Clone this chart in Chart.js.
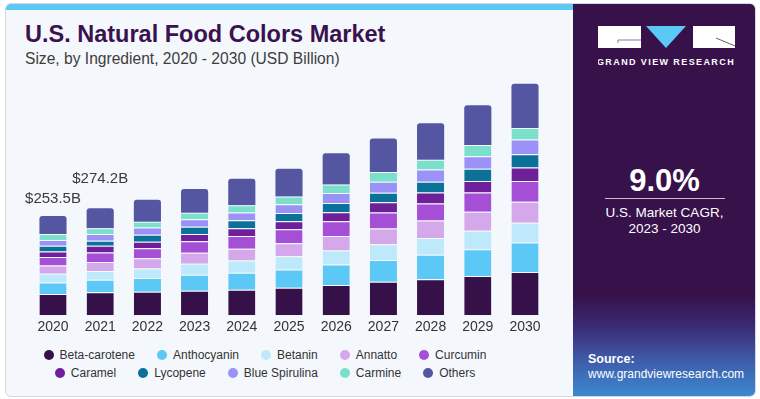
<!DOCTYPE html>
<html>
<head>
<meta charset="utf-8">
<script src="https://cdn.jsdelivr.net/npm/chart.js@4.4.1/dist/chart.umd.min.js"></script>
<style>
  html, body { margin: 0; padding: 0; background: #ffffff; }
  body { width: 760px; height: 399px; position: relative; overflow: hidden; font-family: "Liberation Sans", Arial, sans-serif; }
  #card { position: absolute; left: 5px; top: 3px; width: 749px; height: 392px; border: 1px solid #d3d8de; border-radius: 6px; overflow: hidden; background: #f4f8fc; }
  #strip { position: absolute; left: 0; top: 0; width: 568px; height: 6px; background: #5bc8f5; }
  #panel { position: absolute; left: 567px; top: 0; width: 183px; height: 393px;
    background: linear-gradient(to bottom, #37114a 0%, #37114a 74%, #3a2a74 82%, #3f58a6 90%, #3c8ad2 100%); }
  #title { position: absolute; left: 19px; top: 19px; font-size: 23.5px; line-height: 23.5px; font-weight: bold; color: #3a1250; white-space: nowrap; }
  #subtitle { position: absolute; left: 19px; top: 47px; font-size: 15.6px; line-height: 15.6px; color: #3d3d3d; white-space: nowrap; }
  #chartWrap { position: absolute; left: 5px; top: 73px; width: 568px; height: 270px; }
  #legend { position: absolute; left: 0; top: 346px; width: 530px; font-size: 12px; color: #333; }
  .lrow { display: flex; justify-content: center; height: 18px; align-items: center; white-space: nowrap; }
  .litem { display: flex; align-items: center; margin: 0 11px; }
  .ldot { width: 10px; height: 10px; border-radius: 50%; margin-right: 6px; }
  .ptext { position: absolute; color: #fff; white-space: nowrap; }
</style>
</head>
<body>
<div id="card">
  <div id="strip"></div>
  <div id="panel">
    <svg style="position:absolute;left:25px;top:22px" width="140" height="50" viewBox="0 0 140 50">
      <rect x="0" y="0" width="43" height="22" fill="#ffffff"/>
      <polyline points="20,17 20,14 43,14" fill="none" stroke="#8a7a9a" stroke-width="1"/>
      <polygon points="48,0 88,0 68,22" fill="#5bc8f5"/>
      <rect x="95" y="0" width="42" height="22" fill="#ffffff"/>
      <line x1="118" y1="12" x2="137" y2="20" stroke="#6a5a7a" stroke-width="1"/>
      <text x="68" y="38.5" text-anchor="middle" fill="#ffffff" font-family="Liberation Sans, Arial, sans-serif" font-weight="bold" font-size="9" letter-spacing="1.4">GRAND VIEW RESEARCH</text>
    </svg>
    <div class="ptext" style="left:0;width:183px;text-align:center;top:161px;font-size:31px;line-height:31px;font-weight:bold;">9.0%</div>
    <div style="position:absolute;left:32px;top:194px;width:120px;height:1px;background:#c9bfd2;"></div>
    <div class="ptext" style="left:0;width:183px;text-align:center;top:201px;font-size:13.5px;line-height:16px;">U.S. Market CAGR,</div>
    <div class="ptext" style="left:0;width:183px;text-align:center;top:217px;font-size:13.5px;line-height:16px;">2023 - 2030</div>
    <div class="ptext" style="left:15px;top:348px;font-size:12.5px;line-height:14px;font-weight:bold;">Source:</div>
    <div class="ptext" style="left:15px;top:363px;font-size:12px;line-height:14px;">www.grandviewresearch.com</div>
  </div>
  <div id="title">U.S. Natural Food Colors Market</div>
  <div id="subtitle">Size, by Ingredient, 2020 - 2030 (USD Billion)</div>
</div>
<div id="chartWrap"><canvas id="c"></canvas></div>
<div id="legend"></div>
<script>
const categories = ['2020','2021','2022','2023','2024','2025','2026','2027','2028','2029','2030'];
const seriesNames = ['Beta-carotene','Anthocyanin','Betanin','Annatto','Curcumin','Caramel','Lycopene','Blue Spirulina','Carmine','Others'];
const seriesColors = ['#361048','#5bc8f5','#bde9fa','#d5a8ec','#a54ed6','#6e1f9a','#0b7199','#9a92f6','#7ae0cc','#5556a2'];
const betaCarotene  = [54.4, 58.6, 60.3, 62.8, 65.3, 70.3, 77.0, 85.4, 92.1, 100.4, 110.5];
const anthocyanin   = [29.3, 31.8, 35.1, 41.0, 43.5, 46.9, 52.7, 56.1, 62.8, 68.6, 75.3];
const betanin       = [22.6, 22.6, 24.3, 27.6, 31.0, 33.5, 36.0, 40.2, 42.7, 46.9, 51.0];
const annatto       = [20.9, 23.4, 25.9, 28.5, 30.1, 33.5, 36.8, 40.2, 44.4, 48.5, 53.6];
const curcumin      = [21.8, 24.3, 25.9, 29.3, 32.6, 36.0, 37.7, 41.0, 43.5, 49.4, 52.7];
const caramel       = [14.2, 16.7, 16.7, 18.4, 20.1, 20.1, 23.4, 25.9, 28.5, 29.3, 35.1];
const lycopene      = [14.2, 13.4, 17.6, 18.4, 20.1, 20.9, 23.4, 24.3, 27.6, 31.8, 33.5];
const blueSpirulina = [15.1, 16.7, 18.4, 19.2, 20.1, 22.6, 25.9, 28.5, 31.0, 31.8, 37.7];
const carmine       = [15.1, 15.1, 15.1, 16.7, 18.4, 20.1, 21.8, 25.1, 25.1, 28.5, 29.3];
const others        = [46.0, 51.0, 56.1, 61.1, 67.8, 71.1, 79.5, 85.4, 93.7, 102.1, 113.8];
const totalLabels   = ['$253.5B', '$274.2B'];

const seriesValues = [betaCarotene, anthocyanin, betanin, annatto, curcumin, caramel, lycopene, blueSpirulina, carmine, others];

const datasets = seriesNames.map((name, i) => ({
  label: name,
  data: seriesValues[i],
  backgroundColor: seriesColors[i],
  borderColor: 'rgba(244,248,252,0.85)',
  borderWidth: {top: i === seriesNames.length - 1 ? 0 : 1, bottom: 0, left: 0, right: 0},
  borderSkipped: false,
  borderRadius: i === seriesNames.length - 1 ? {topLeft: 3, topRight: 3, bottomLeft: 0, bottomRight: 0} : 0,
  barPercentage: 0.575,
  categoryPercentage: 1.0
}));

const totalLabelPlugin = {
  id: 'totalLabels',
  afterDatasetsDraw(chart) {
    const ctx = chart.ctx;
    const lift = [13, 25];
    const xs = chart.scales.x, ys = chart.scales.y;
    ctx.save();
    ctx.font = '15px "Liberation Sans", Arial, sans-serif';
    ctx.fillStyle = '#3a3a3a';
    ctx.textAlign = 'center';
    ctx.textBaseline = 'alphabetic';
    totalLabels.forEach((txt, i) => {
      let total = 0;
      seriesValues.forEach(s => total += s[i]);
      const x = xs.getPixelForValue(i);
      const y = ys.getPixelForValue(total) - lift[i];
      ctx.fillText(txt, x, y);
    });
    ctx.restore();
  }
};

new Chart(document.getElementById('c'), {
  type: 'bar',
  data: { labels: categories, datasets },
  options: {
    responsive: true,
    maintainAspectRatio: false,
    animation: false,
    layout: { padding: { left: 24.4, right: 24.4, top: 7.7, bottom: 3 } },
    plugins: { legend: { display: false }, tooltip: { enabled: false } },
    scales: {
      x: {
        stacked: true,
        grid: { display: false, drawTicks: false },
        border: { display: false },
        ticks: { color: '#333', font: { size: 14, family: '"Liberation Sans", Arial, sans-serif' }, padding: 4, maxRotation: 0 }
      },
      y: { stacked: true, display: false, min: 0, max: 600 }
    }
  },
  plugins: [totalLabelPlugin]
});

const legend = document.getElementById('legend');
[[0,1,2,3,4],[5,6,7,8,9]].forEach(row => {
  const r = document.createElement('div');
  r.className = 'lrow';
  row.forEach(i => {
    const it = document.createElement('div');
    it.className = 'litem';
    const d = document.createElement('span');
    d.className = 'ldot';
    d.style.background = seriesColors[i];
    const t = document.createElement('span');
    t.textContent = seriesNames[i];
    it.appendChild(d); it.appendChild(t);
    r.appendChild(it);
  });
  legend.appendChild(r);
});
</script>
</body>
</html>
